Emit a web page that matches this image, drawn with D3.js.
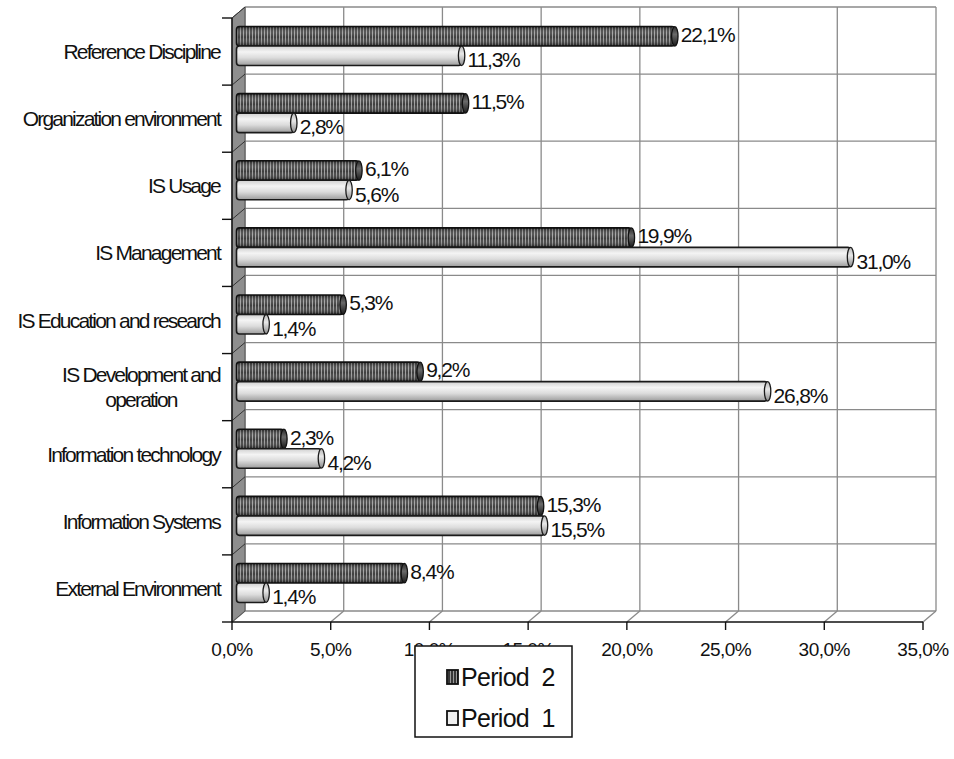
<!DOCTYPE html>
<html>
<head>
<meta charset="utf-8">
<script src="https://cdn.jsdelivr.net/npm/d3@7/dist/d3.min.js"></script>
<style>
  html, body { margin: 0; padding: 0; background: #fff; }
  svg { display: block; }
  text { font-family: "Liberation Sans", Arial, sans-serif; fill: #111; }
</style>
</head>
<body>
<svg id="chart" width="954" height="759"></svg>
<script>
// ---- data ----
const categories = [
  "Reference Discipline",
  "Organization environment",
  "IS Usage",
  "IS Management",
  "IS Education and research",
  "IS Development and operation",
  "Information technology",
  "Information Systems",
  "External Environment"
];
const period2 = [22.1, 11.5, 6.1, 19.9, 5.3, 9.2, 2.3, 15.3, 8.4];
const period1 = [11.3, 2.8, 5.6, 31.0, 1.4, 26.8, 4.2, 15.5, 1.4];
const xTickValues = [0, 5, 10, 15, 20, 25, 30, 35];
const seriesKeys = ["p2", "p1"];
const seriesNames = ["Period  2", "Period  1"];

const fmt = v => v.toFixed(1).replace(".", ",") + "%";

// ---- layout ----
const svg = d3.select("#chart");
const depthX = 13, depthY = -11;           // offset from the front plane to the back wall
const front = { left: 232, right: 923, top: 18, bottom: 622 };

const x = d3.scaleLinear().domain([0, 35]).range([front.left, front.right]);
const y = d3.scaleBand().domain(categories).range([front.top, front.bottom]);
const bw = y.bandwidth();

const defs = svg.append("defs");

// striped fill for the dark cylinders
const stripe = defs.append("pattern")
  .attr("id", "stripes").attr("patternUnits", "userSpaceOnUse")
  .attr("width", 3).attr("height", 10);
stripe.append("rect").attr("width", 3).attr("height", 10).attr("fill", "#383838");
stripe.append("rect").attr("width", 1).attr("height", 10).attr("fill", "#9a9a9a");

const shadeDark = defs.append("linearGradient").attr("id", "shadeDark")
  .attr("x1", 0).attr("y1", 0).attr("x2", 0).attr("y2", 1);
[[0, "#000", 0.45], [0.35, "#fff", 0.15], [0.55, "#fff", 0.03], [1, "#000", 0.55]]
  .forEach(([o, c, a]) => shadeDark.append("stop").attr("offset", o).attr("stop-color", c).attr("stop-opacity", a));

const shadeLight = defs.append("linearGradient").attr("id", "shadeLight")
  .attr("x1", 0).attr("y1", 0).attr("x2", 0).attr("y2", 1);
[[0, "#cfcfcf"], [0.3, "#f4f4f4"], [0.6, "#dcdcdc"], [1, "#9c9c9c"]]
  .forEach(([o, c]) => shadeLight.append("stop").attr("offset", o).attr("stop-color", c));

const capDark = defs.append("linearGradient").attr("id", "capDark")
  .attr("x1", 0).attr("y1", 0).attr("x2", 0).attr("y2", 1);
[[0, "#2a2a2a"], [0.4, "#6a6a6a"], [1, "#1a1a1a"]]
  .forEach(([o, c]) => capDark.append("stop").attr("offset", o).attr("stop-color", c));

const capLight = defs.append("linearGradient").attr("id", "capLight")
  .attr("x1", 0).attr("y1", 0).attr("x2", 0).attr("y2", 1);
[[0, "#b8b8b8"], [0.4, "#e8e8e8"], [1, "#8a8a8a"]]
  .forEach(([o, c]) => capLight.append("stop").attr("offset", o).attr("stop-color", c));

// ---- back wall grid ----
const grid = svg.append("g").attr("stroke", "#8a8a8a").attr("stroke-width", 1.3).attr("fill", "none");
const backTop = front.top + depthY, backBottom = front.bottom + depthY;

xTickValues.forEach(t => {
  grid.append("line")
    .attr("x1", x(t) + depthX).attr("x2", x(t) + depthX)
    .attr("y1", backTop).attr("y2", backBottom);
});
categories.forEach(c => {
  grid.append("line")
    .attr("x1", x(0) + depthX).attr("x2", x(35) + depthX)
    .attr("y1", y(c) + depthY).attr("y2", y(c) + depthY);
});
grid.append("line")
  .attr("x1", x(0) + depthX).attr("x2", x(35) + depthX)
  .attr("y1", backBottom).attr("y2", backBottom);

// floor diagonals from front ticks to the back wall
xTickValues.forEach(t => {
  grid.append("line")
    .attr("x1", x(t)).attr("y1", front.bottom)
    .attr("x2", x(t) + depthX).attr("y2", backBottom);
});

// ---- left side wall ----
svg.append("path")
  .attr("d", d3.line()([
    [front.left, front.top], [front.left + depthX, backTop],
    [front.left + depthX, backBottom], [front.left, front.bottom]
  ]) + "Z")
  .attr("fill", "#8e8e8e").attr("stroke", "#555").attr("stroke-width", 1);

const wallLines = svg.append("g").attr("stroke", "#333").attr("stroke-width", 1);
categories.forEach(c => {
  wallLines.append("line")
    .attr("x1", front.left).attr("y1", y(c))
    .attr("x2", front.left + depthX).attr("y2", y(c) + depthY);
});

// ---- front axes ----
const axes = svg.append("g").attr("stroke", "#111").attr("stroke-width", 1.4);
axes.append("line")
  .attr("x1", front.left).attr("x2", front.left)
  .attr("y1", front.top).attr("y2", front.bottom);
axes.append("line")
  .attr("x1", front.left).attr("x2", front.right)
  .attr("y1", front.bottom).attr("y2", front.bottom);
categories.concat([null]).forEach(c => {
  const yy = c === null ? front.bottom : y(c);
  axes.append("line").attr("x1", front.left - 10).attr("x2", front.left)
    .attr("y1", yy).attr("y2", yy);
});
xTickValues.forEach(t => {
  axes.append("line").attr("x1", x(t)).attr("x2", x(t))
    .attr("y1", front.bottom).attr("y2", front.bottom + 8);
});

// x tick labels
svg.append("g").selectAll("text").data(xTickValues).join("text")
  .attr("x", d => x(d)).attr("y", 656)
  .attr("text-anchor", "middle")
  .attr("font-size", 19).attr("letter-spacing", -0.5)
  .text(d => fmt(d));

// category labels (wrapped and centred as a block, right-aligned to the axis)
const labelRight = 220, maxLabelWidth = 212;
const catG = svg.append("g");
categories.forEach(c => {
  const t = catG.append("text").attr("font-size", 21).attr("letter-spacing", -1.8);
  const words = c.split(" ");
  let lines = [], cur = [];
  words.forEach(w => {
    cur.push(w);
    t.text(cur.join(" "));
    if (t.node().getComputedTextLength() > maxLabelWidth && cur.length > 1) {
      cur.pop(); lines.push(cur.join(" ")); cur = [w];
    }
  });
  lines.push(cur.join(" "));
  t.text(null);
  const widths = lines.map(l => { t.text(l); const w = t.node().getComputedTextLength(); t.text(null); return w; });
  const blockW = d3.max(widths);
  const cx = labelRight - blockW / 2;
  const lh = 25;
  const cy = y(c) + bw / 2;
  lines.forEach((l, i) => {
    t.append("tspan")
      .attr("x", cx).attr("text-anchor", "middle")
      .attr("y", cy + (i - (lines.length - 1) / 2) * lh)
      .attr("dy", "0.36em")
      .text(l);
  });
});

// ---- bars (cylinders at mid depth) ----
const midX = depthX / 2, midY = depthY / 2;
const sub = d3.scaleBand().domain(seriesKeys).range([-19.5, 19.5]);
const rows = categories.map((c, i) => ({ c, p2: period2[i], p1: period1[i] }));

const barsG = svg.append("g");
rows.forEach(r => {
  const cy = y(r.c) + bw / 2 + midY;
  seriesKeys.forEach(k => {
    const v = r[k];
    const y0 = cy + sub(k), h = sub.bandwidth();
    const xs = x(0) + midX - 2, xe = x(v) + midX;
    const g = barsG.append("g");
    if (k === "p2") {
      g.append("rect").attr("x", xs).attr("y", y0).attr("width", xe - xs).attr("height", h)
        .attr("rx", 3).attr("fill", "url(#stripes)");
      g.append("rect").attr("x", xs).attr("y", y0).attr("width", xe - xs).attr("height", h)
        .attr("rx", 3).attr("fill", "url(#shadeDark)")
        .attr("stroke", "#111").attr("stroke-width", 1.6);
      g.append("ellipse").attr("cx", xe).attr("cy", y0 + h / 2).attr("rx", 3.2).attr("ry", h / 2)
        .attr("fill", "url(#capDark)").attr("stroke", "#111").attr("stroke-width", 1.3);
    } else {
      g.append("rect").attr("x", xs).attr("y", y0).attr("width", xe - xs).attr("height", h)
        .attr("rx", 3).attr("fill", "url(#shadeLight)")
        .attr("stroke", "#1a1a1a").attr("stroke-width", 1.6);
      g.append("ellipse").attr("cx", xe).attr("cy", y0 + h / 2).attr("rx", 3.2).attr("ry", h / 2)
        .attr("fill", "url(#capLight)").attr("stroke", "#1a1a1a").attr("stroke-width", 1.3);
    }
  });
});

// value labels
const labG = svg.append("g");
rows.forEach(r => {
  const cy = y(r.c) + bw / 2 + midY;
  seriesKeys.forEach(k => {
    const v = r[k];
    const yc = cy + sub(k) + sub.bandwidth() / 2 + (k === "p2" ? -2 : 4);
    labG.append("text")
      .attr("x", x(v) + midX + 6).attr("y", yc).attr("dy", "0.36em")
      .attr("font-size", 21).attr("letter-spacing", -1.2)
      .text(fmt(v));
  });
});

// ---- legend ----
const leg = svg.append("g");
leg.append("rect").attr("x", 415).attr("y", 646).attr("width", 157).attr("height", 91)
  .attr("fill", "#fff").attr("stroke", "#111").attr("stroke-width", 1.5);
seriesKeys.forEach((k, i) => {
  const cy = 677 + i * 41;
  leg.append("rect").attr("x", 447).attr("y", cy - 7).attr("width", 11).attr("height", 14)
    .attr("fill", k === "p2" ? "url(#stripes)" : "#efefef")
    .attr("stroke", "#111").attr("stroke-width", 1.8);
  leg.append("text").attr("x", 461).attr("y", cy).attr("dy", "0.36em")
    .attr("font-size", 25).attr("letter-spacing", -0.7)
    .style("white-space", "pre")
    .text(seriesNames[i]);
});
</script>
</body>
</html>
